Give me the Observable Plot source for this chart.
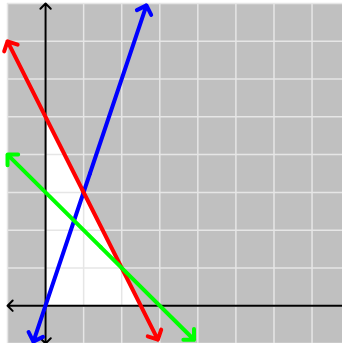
<!DOCTYPE html>
<html>
<head>
<meta charset="utf-8">
<script src="https://cdn.jsdelivr.net/npm/d3@7"></script>
<script src="https://cdn.jsdelivr.net/npm/@observablehq/plot@0.6"></script>
<style>
html, body { margin: 0; padding: 0; overflow: hidden; background: #fff; }
#chart svg { display: block; }
</style>
</head>
<body>
<div id="chart"></div>
<script>
// Grid ticks
const xTicks = [-1, 0, 1, 2, 3, 4, 5, 6, 7];
const yTicks = [-1, 0, 1, 2, 3, 4, 5, 6, 7, 8];

// Lines (endpoints), drawn in this order
const lineNames  = ["blue", "red", "green"];
const lineColors = ["#0000ff", "#ff0000", "#00ff00"];
const lineX1 = [-0.32, -1, -1];
const lineY1 = [-0.95, 7, 4];
const lineX2 = [2.65, 2.95, 3.9];
const lineY2 = [7.95, -0.9, -0.9];

// Feasible (white) region: x >= 0, y >= 0, under the red line
const regionX = [0, 2.5];
const regionY = [5, 0];

// Axes endpoints
const axisX = [-1, 8];
const axisY = [-1, 8];

const region = regionX.map((x, i) => ({x, y: regionY[i]}));

// Each line drawn as two arrows from its midpoint to each end
const segs = [];
lineNames.forEach((name, i) => {
  const mx = (lineX1[i] + lineX2[i]) / 2, my = (lineY1[i] + lineY2[i]) / 2;
  segs.push({name, color: lineColors[i], x1: mx, y1: my, x2: lineX1[i], y2: lineY1[i]});
  segs.push({name, color: lineColors[i], x1: mx, y1: my, x2: lineX2[i], y2: lineY2[i]});
});

const axes = [
  {x1: 0, y1: 0, x2: axisX[0], y2: 0},
  {x1: 0, y1: 0, x2: axisX[1], y2: 0},
  {x1: 0, y1: 0, x2: 0, y2: axisY[0]},
  {x1: 0, y1: 0, x2: 0, y2: axisY[1]}
];

const chart = Plot.plot({
  width: 342,
  height: 343,
  marginLeft: 7,
  marginTop: 3,
  marginRight: 0,
  marginBottom: 0,
  x: {domain: [-1, 7.8], axis: null},
  y: {domain: [-1, 8], axis: null},
  marks: [
    Plot.frame({fill: "#c0c0c0", stroke: "none"}),
    Plot.areaY(region, {x: "x", y1: 0, y2: "y", fill: "#ffffff"}),
    Plot.ruleX(xTicks, {stroke: "#e6e6e6", strokeWidth: 1.5}),
    Plot.ruleY(yTicks, {stroke: "#e6e6e6", strokeWidth: 1.5}),
    Plot.arrow(axes, {x1: "x1", y1: "y1", x2: "x2", y2: "y2", stroke: "#000", strokeWidth: 2, headLength: 5.5, headAngle: 90}),
    Plot.arrow(segs, {x1: "x1", y1: "y1", x2: "x2", y2: "y2", stroke: "color", strokeWidth: 4, headLength: 4, headAngle: 90, strokeLinecap: "round"})
  ]
});
document.getElementById("chart").append(chart);
</script>
</body>
</html>
